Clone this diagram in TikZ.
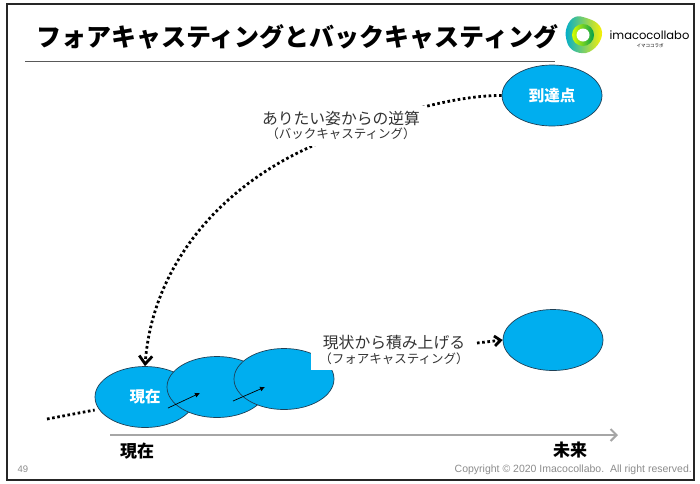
\documentclass[tikz,border=0pt]{standalone}
\usepackage{fontspec}
\setmainfont{Noto Sans CJK JP}
\newfontfamily\latinfont{Liberation Sans}
\newfontfamily\logofont{Poppins}
\usetikzlibrary{shapes.geometric,arrows.meta}
\definecolor{skyblue}{HTML}{00AEEF}
\definecolor{edgeblue}{HTML}{1F3F55}
\definecolor{axisgray}{HTML}{A6A6A6}
\definecolor{notegray}{HTML}{8C8C8C}
\tikzset{
  blob/.style={ellipse,draw=edgeblue,line width=0.7pt,fill=skyblue,minimum width=100pt,minimum height=61pt,inner sep=0pt,text=white,font=\fontsize{15.5}{17}\selectfont\bfseries},
  dots/.style={line width=2.8pt,dash pattern=on 2.6pt off 2.6pt},
  stepline/.style={line width=0.7pt,-{Latex[length=5pt,width=5pt]}},
  caption/.style={fill=white,inner sep=0pt,minimum height=40pt,align=center,text=black!80},
  axislabel/.style={font=\fontsize{17}{19}\selectfont\bfseries},
}
\newcommand{\bigline}[1]{{\fontsize{15.8}{18}\selectfont #1}}
\newcommand{\subline}[1]{{\fontsize{12.5}{15}\selectfont #1}}
\begin{document}
\begin{tikzpicture}[x=1pt,y=-1pt]
\useasboundingbox (0,0) rectangle (700,483);
\draw[line width=1.8pt,black!85] (7,4) rectangle (694,480);
\node[inner sep=0pt,font=\fontsize{25}{28}\selectfont\bfseries] (title) at (297,37) {フォアキャスティングとバックキャスティング};
\coordinate (ruleL) at (25,61);
\coordinate (ruleR) at (555,61);
\draw[line width=1pt,black!65] (ruleL) -- (ruleR);

% logo
\shade[left color=cyan!60!blue!80!green,right color=yellow!90!orange] (566,30) .. controls (568,20) and (575,14) .. (583,17) .. controls (590,19) and (601,22) .. (602,32) .. controls (603,40) and (595,51) .. (586,53) .. controls (577,54) and (569,50) .. (567,42) .. controls (566,38) and (565,34) .. (566,30);
\shade[left color=yellow!85!green,right color=green!45!black!70!cyan] (583,35) circle (11);
\fill[white] (583,35) circle (6.5);
\node[inner sep=0pt,font=\fontsize{11.5}{14}\logofont] (logoname) at (649.5,35) {imacocollabo};
\node[inner sep=0pt,font=\fontsize{4.5}{5}\selectfont] (logokana) at (650,45.5) {イマココラボ};

\node[blob] (goal) at (552,95.5) {到達点};
\node[blob] (now) at (145,397) {現在};
\node[blob] (stepa) at (217,387) {};
\node[blob] (stepb) at (284,379) {};
\node[blob] (future) at (553,340) {};

\coordinate (tail) at (47,419);
\coordinate (bend) at (310,147);
\coordinate (astart) at (168,408);
\coordinate (aend) at (200,393);
\coordinate (bstart) at (233,401);
\coordinate (bend2) at (265,387);
\draw[dots] (tail) -- (now.west |- 0,410);
\draw[stepline] (astart) -- (aend);
\draw[stepline] (bstart) -- (bend2);
\draw[dots,-{Straight Barb[length=8pt,width=13pt]}] (goal.west) .. controls (450,95) and (370,120) .. (bend) .. controls (215,190) and (152,270) .. (now.north);

\node[caption,text width=170pt] (backlabel) at (341,125.5) {\bigline{ありたい姿からの逆算}\\[2pt]\subline{（バックキャスティング）}};
\node[caption,text width=166pt] (forelabel) at (394,350) {\bigline{現状から積み上げる}\\[2pt]\subline{（フォアキャスティング）}};
\coordinate (dashstart) at (477,343);
\draw[dots,-{Straight Barb[length=6pt,width=10pt]}] (dashstart) -- (future.west);

\coordinate (axisL) at (110,435);
\coordinate (axisR) at (618,435);
\draw[line width=2pt,axisgray,-{Straight Barb[length=6pt,width=12pt]}] (axisL) -- (axisR);
\node[axislabel] (nowlabel) at (137,451) {現在};
\node[axislabel] (futurelabel) at (570,450) {未来};
\node[inner sep=0pt,text=notegray,font=\fontsize{9.5}{11}\latinfont] (pageno) at (23,469) {49};
\node[inner sep=0pt,anchor=east,text=notegray,font=\fontsize{10.5}{12}\latinfont] (copy) at (692,470) {Copyright © 2020 Imacocollabo.\ \ All right reserved.};
\end{tikzpicture}
\end{document}
